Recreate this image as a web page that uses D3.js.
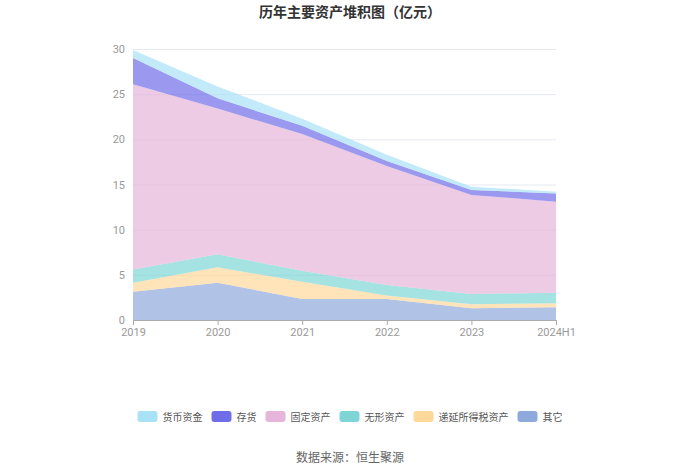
<!DOCTYPE html>
<html lang="zh">
<head>
    <meta charset="UTF-8">
    <title>历年主要资产堆积图</title>
    <style type="text/css">
        * {
            margin: 0;
            padding: 0;
        }
        body {
            background: #fff;
            font-family: "Noto Sans CJK SC", "Noto Sans", sans-serif;
        }
    </style>
</head>
<body>
<div id="chart-area"></div>
<script src="https://cdn.jsdelivr.net/npm/d3@7/dist/d3.min.js"></script>
<script type="text/javascript">

  const years = ['2019', '2020', '2021', '2022', '2023', '2024H1']
  const seriesNames = ['其它', '递延所得税资产', '无形资产', '固定资产', '存货', '货币资金']
  const other = [3.13, 4.13, 2.33, 2.33, 1.30, 1.40]
  const deferredTax = [1.00, 1.70, 1.90, 0.37, 0.44, 0.45]
  const intangible = [1.47, 1.44, 1.22, 1.18, 1.14, 1.18]
  const fixedAssets = [20.50, 16.13, 15.14, 13.17, 10.96, 10.07]
  const inventory = [2.90, 1.15, 0.90, 0.55, 0.56, 0.90]
  const cash = [0.90, 1.30, 0.80, 0.70, 0.36, 0.20]
  const yTicks = [0, 5, 10, 15, 20, 25, 30]

  const legendOrder = ['货币资金', '存货', '固定资产', '无形资产', '递延所得税资产', '其它']
  const colorMap = {
    '货币资金': '#a9e1f7',
    '存货': '#6f6ee8',
    '固定资产': '#e6b5d9',
    '无形资产': '#7fd5d5',
    '递延所得税资产': '#fdd89a',
    '其它': '#8ea9db'
  }

  const W = 700, H = 474
  const MARGIN = {LEFT: 133, TOP: 49, RIGHT: 144, BOTTOM: 154}
  const WIDTH = W - MARGIN.LEFT - MARGIN.RIGHT
  const HEIGHT = H - MARGIN.TOP - MARGIN.BOTTOM

  const svg = d3.select('#chart-area').append('svg')
    .attr('width', W)
    .attr('height', H)

  const g = svg.append('g').attr('transform', `translate(${MARGIN.LEFT}, ${MARGIN.TOP})`)

  const x = d3.scalePoint().domain(years).range([0, WIDTH])
  const y = d3.scaleLinear().domain([0, 30]).range([HEIGHT, 0])

  // grid lines
  const yAxisCall = d3.axisLeft(y).tickValues(yTicks).tickSize(-WIDTH).tickPadding(8)
  g.append('g').attr('class', 'y-axis')
    .call(yAxisCall)
    .call(g => g.select('.domain').remove())
    .call(g => g.selectAll('.tick line').attr('stroke', '#e6e9f2'))
    .call(g => g.selectAll('.tick text')
      .attr('fill', '#999')
      .attr('font-size', '11px')
      .attr('font-family', 'Roboto, "Noto Sans", sans-serif'))

  // stacked data
  const table = years.map((yr, i) => ({
    year: yr,
    '其它': other[i],
    '递延所得税资产': deferredTax[i],
    '无形资产': intangible[i],
    '固定资产': fixedAssets[i],
    '存货': inventory[i],
    '货币资金': cash[i]
  }))
  const stack = d3.stack().keys(seriesNames)
  const layers = stack(table)

  const area = d3.area()
    .x(d => x(d.data.year))
    .y0(d => y(d[0]))
    .y1(d => y(d[1]))

  g.selectAll('.layer').data(layers).join('path')
    .attr('class', 'layer')
    .attr('d', area)
    .attr('fill', d => colorMap[d.key])
    .attr('fill-opacity', 0.7)

  // x axis
  const xAxisCall = d3.axisBottom(x).tickSizeOuter(0).tickSize(5).tickPadding(3)
  g.append('g').attr('class', 'x-axis')
    .attr('transform', `translate(0, ${HEIGHT})`)
    .call(xAxisCall)
    .call(g => g.select('.domain').attr('stroke', '#aaa'))
    .call(g => g.selectAll('.tick line').attr('stroke', '#aaa'))
    .call(g => g.selectAll('.tick text')
      .attr('fill', '#999')
      .attr('font-size', '11px')
      .attr('font-family', 'Roboto, "Noto Sans", sans-serif'))

  // title
  svg.append('text')
    .attr('x', W / 2)
    .attr('y', 17)
    .attr('text-anchor', 'middle')
    .attr('font-size', '14px')
    .attr('font-weight', 'bold')
    .attr('fill', '#333')
    .text('历年主要资产堆积图（亿元）')

  // legend
  const legend = svg.append('g').attr('class', 'legend')
  const items = legend.selectAll('g').data(legendOrder).join('g')
  items.append('rect')
    .attr('width', 20)
    .attr('height', 11)
    .attr('rx', 3)
    .attr('fill', d => colorMap[d])
  items.append('text')
    .attr('x', 25)
    .attr('y', 9.5)
    .attr('font-size', '10px')
    .attr('fill', '#555')
    .text(d => d)
  const widths = []
  items.each(function () {
    widths.push(this.getBBox().width)
  })
  const gap = 9
  const total = d3.sum(widths) + gap * (widths.length - 1)
  let offset = (W - total) / 2
  items.attr('transform', (d, i) => {
    const tx = offset
    offset += widths[i] + gap
    return `translate(${tx}, 411)`
  })

  // source
  svg.append('text')
    .attr('x', W / 2)
    .attr('y', 462)
    .attr('text-anchor', 'middle')
    .attr('font-size', '12px')
    .attr('fill', '#666')
    .text('数据来源：恒生聚源')

</script>
</body>
</html>
